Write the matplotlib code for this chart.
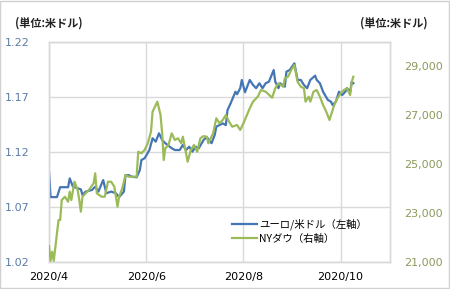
import datetime as dt
import matplotlib
matplotlib.use("Agg")
import matplotlib.pyplot as plt
import matplotlib.dates as mdates
from matplotlib.ticker import FixedLocator, FuncFormatter
from matplotlib.lines import Line2D
from matplotlib.patches import Rectangle

plt.rcParams['font.family'] = ['DejaVu Sans', 'Noto Sans CJK JP']

START = dt.date(2020, 4, 1)

# day offsets from 2020-04-01 and values
eur_days = [0, 1, 5, 7, 12, 13, 15, 18, 20, 21, 23, 27, 29, 31, 34, 36, 39, 42, 44, 47,
            48, 50, 52, 55, 57, 58, 60, 63, 65, 67, 69, 71, 73, 77, 79, 82, 84, 86, 88, 90,
            92, 94, 97, 99, 102, 104, 105, 107, 109, 111, 112, 114, 117, 118, 120, 121, 123,
            126, 128, 130, 132, 134, 136, 138, 141, 142, 144, 145, 148, 149, 151, 154, 156,
            158, 160, 162, 164, 167, 168, 170, 172, 175, 177, 178, 180, 182, 184, 186, 187,
            189, 190, 191]
eur_vals = [1.102, 1.079, 1.079, 1.088, 1.088, 1.096, 1.0885, 1.087, 1.086, 1.081, 1.084,
            1.0855, 1.0885, 1.084, 1.0945, 1.0825, 1.084, 1.0825, 1.079, 1.084, 1.099, 1.099,
            1.0975, 1.097, 1.1036, 1.1127, 1.1143, 1.1218, 1.1325, 1.1294, 1.137, 1.131, 1.128,
            1.1234, 1.1218, 1.1218, 1.1264, 1.1218, 1.1248, 1.1203, 1.1248, 1.1234, 1.131,
            1.1335, 1.128, 1.1355, 1.143, 1.1445, 1.146, 1.1445, 1.158, 1.1643, 1.1748, 1.1725,
            1.178, 1.1855, 1.1743, 1.1855, 1.181, 1.178, 1.1825, 1.178, 1.1825, 1.1839, 1.1945,
            1.1839, 1.178, 1.1825, 1.1794, 1.193, 1.1945, 1.2006, 1.1855, 1.1855, 1.1809, 1.178,
            1.1855, 1.1894, 1.1855, 1.1825, 1.1748, 1.1673, 1.1657, 1.1627, 1.1657, 1.1748,
            1.1718, 1.1748, 1.178, 1.1748, 1.1839, 1.1825]

dow_days = [0, 1, 2, 3, 5, 6, 7, 8, 10, 12, 13, 14, 16, 18, 19, 20, 21, 23, 25, 28, 29, 30,
            33, 35, 37, 39, 41, 43, 44, 46, 48, 50, 55, 56, 58, 60, 62, 64, 65, 68, 70, 71, 72,
            73, 75, 77, 79, 81, 83, 84, 86, 87, 89, 91, 93, 95, 97, 99, 100, 103, 105, 107, 109,
            111, 113, 115, 118, 120, 122, 126, 128, 131, 133, 136, 140, 142, 144, 147, 148, 150,
            152, 154, 156, 158, 160, 161, 163, 164, 166, 168, 170, 172, 174, 176, 177, 179, 181,
            183, 185, 187, 189, 190, 191]
dow_vals = [21650, 21050, 21420, 21050, 22174, 22718, 22718, 23536, 23671, 23467, 23876,
            23536, 24285, 23945, 23536, 23058, 23671, 23810, 23945, 24220, 24629, 23810, 23671,
            23671, 24285, 24285, 24080, 23262, 23671, 24015, 24559, 24490, 24490, 25512, 25447,
            25582, 25856, 26330, 27149, 27558, 27013, 26265, 25173, 25651, 25786, 26265, 25991,
            26061, 25856, 26126, 25447, 25103, 25582, 25786, 25512, 26061, 26150, 26126, 25856,
            26265, 26879, 26674, 26809, 27013, 26740, 26535, 26604, 26400, 26674, 27288, 27558,
            27762, 28036, 27967, 27721, 28106, 28310, 28172, 28515, 28581, 28855, 29059, 28376,
            28172, 28106, 27558, 27762, 27558, 27967, 28036, 27762, 27422, 27149, 26809, 27013,
            27422, 27697, 27901, 28036, 28106, 27830, 28376, 28581]

left_ticks = [1.02, 1.07, 1.12, 1.17, 1.22]
right_ticks = [21000, 23000, 25000, 27000, 29000]
x_tick_labels = ["2020/4", "2020/6", "2020/8", "2020/10"]
x_tick_dates = [dt.date(2020, 4, 1), dt.date(2020, 6, 1), dt.date(2020, 8, 1), dt.date(2020, 10, 1)]
series_labels = ["ユーロ/米ドル（左軸）", "NYダウ（右軸）"]
unit_label = "(単位:米ドル)"

eur_dates = [START + dt.timedelta(days=d) for d in eur_days]
dow_dates = [START + dt.timedelta(days=d) for d in dow_days]

BLUE = "#4575B4"
GREEN = "#9BBB59"
GRID = "#D9D9D9"

fig = plt.figure(figsize=(4.5, 2.89), dpi=100)
fig.patches.append(Rectangle((0.001, 0.002), 0.997, 0.995, transform=fig.transFigure,
                             fill=False, edgecolor="#D0D0D0", linewidth=1.0))
ax = fig.add_axes([49/450, 27/289, 341/450, 220/289])
ax2 = ax.twinx()

ax.plot(eur_dates, eur_vals, color=BLUE, lw=1.6, zorder=3)
ax2.plot(dow_dates, dow_vals, color=GREEN, lw=1.6, zorder=3)

ax.set_xlim(dt.date(2020, 4, 1), dt.date(2020, 11, 1))
ax.set_ylim(1.02, 1.22)
ax2.set_ylim(21000, 30000)

ax.xaxis.set_major_locator(FixedLocator(mdates.date2num(x_tick_dates)))
ax.set_xticklabels(x_tick_labels)
ax.set_yticks(left_ticks)
ax.set_yticklabels([f"{v:.2f}" for v in left_ticks])
ax2.set_yticks(right_ticks)
ax2.yaxis.set_major_formatter(FuncFormatter(lambda v, p: f"{int(v):,}"))

ax.grid(True, color=GRID, lw=1.0)
ax.set_axisbelow(True)
for a in (ax, ax2):
    for s in a.spines.values():
        s.set_color(GRID)
        s.set_linewidth(1.0)
    a.tick_params(length=0)

ax.tick_params(axis='y', labelsize=8, colors="#5A7BA5", pad=14)
ax.tick_params(axis='x', labelsize=8, colors="black", pad=7)
ax2.tick_params(axis='y', labelsize=8, colors="#8A9A5B", pad=10)

fig.text(15/450, 1 - 23/289, unit_label, fontsize=8, va='center', ha='left', weight='bold',
         family=['Noto Sans CJK JP', 'DejaVu Sans'], color="#222222")
fig.text(360/450, 1 - 23/289, unit_label, fontsize=8, va='center', ha='left', weight='bold',
         family=['Noto Sans CJK JP', 'DejaVu Sans'], color="#222222")

handles = [Line2D([], [], color=BLUE, lw=1.6), Line2D([], [], color=GREEN, lw=1.6)]
leg = ax2.legend(handles, series_labels, loc='lower left', bbox_to_anchor=(226/450, 39/289),
                 bbox_transform=fig.transFigure, frameon=False, handlelength=2.4,
                 handletextpad=0.2, labelspacing=0.35, borderaxespad=0.2,
                 prop={'family': ['Noto Sans CJK JP', 'DejaVu Sans'], 'size': 7.5})

fig.savefig("out.png", dpi=100)
